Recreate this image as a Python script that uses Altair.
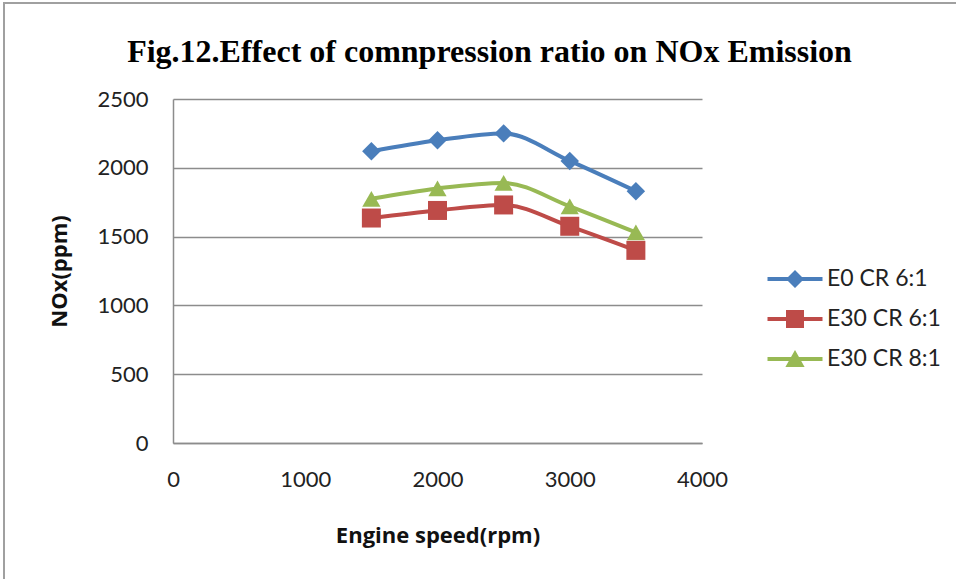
import altair as alt
import pandas as pd

speed = [1500, 2000, 2500, 3000, 3500]
series_names = ["E0 CR 6:1", "E30 CR 6:1", "E30 CR 8:1"]
e0_cr6 = [2120, 2200, 2250, 2050, 1830]
e30_cr6 = [1635, 1690, 1730, 1575, 1400]
e30_cr8 = [1775, 1850, 1890, 1720, 1530]
colors = ["#4A7EBB", "#BE4B48", "#98B954"]
shapes = ["diamond", "square", "triangle-up"]
marker_sizes = [340, 361, 330]

rows = []
for name, vals in zip(series_names, [e0_cr6, e30_cr6, e30_cr8]):
    for s, v in zip(speed, vals):
        rows.append({"speed": s, "nox": v, "series": name})
df = pd.DataFrame(rows)

# legend symbols: filled line bar plus marker
bar = "M-1.375,-0.1L1.375,-0.1L1.375,0.1L-1.375,0.1Z"
legend_paths = [
    bar + "M0,-0.45L0.45,0L0,0.45L-0.45,0Z",
    bar + "M-0.45,-0.45L0.45,-0.45L0.45,0.45L-0.45,0.45Z",
    bar + "M0,-0.45L0.48,0.4L-0.48,0.4Z",
]

x_enc = alt.X("speed:Q", scale=alt.Scale(domain=[0, 4000], nice=False),
              axis=alt.Axis(values=[0, 1000, 2000, 3000, 4000], title="Engine speed(rpm)",
                            format="d", grid=False, ticks=False, labelPadding=26,
                            labelFlush=False, titlePadding=35))
y_enc = alt.Y("nox:Q", scale=alt.Scale(domain=[0, 2500], nice=False),
              axis=alt.Axis(values=[0, 500, 1000, 1500, 2000, 2500], title="NOx(ppm)",
                            format="d", ticks=False, labelPadding=25, labelFlush=False,
                            titlePadding=25))

layers = []
for name, col in zip(series_names, colors):
    layers.append(
        alt.Chart(df).transform_filter(alt.datum.series == name)
        .mark_line(strokeWidth=4, interpolate="monotone", color=col)
        .encode(x=x_enc, y=y_enc)
    )
for name, col, shp, sz in zip(series_names, colors, shapes, marker_sizes):
    layers.append(
        alt.Chart(df).transform_filter(alt.datum.series == name)
        .mark_point(filled=True, opacity=1, size=sz, shape=shp, color=col)
        .encode(x=x_enc, y=y_enc)
    )

legend_props = dict(title=None, orient="none", legendX=602, legendY=160,
                    symbolSize=1600, symbolStrokeWidth=0,
                    labelFont="Lato", labelFontSize=23, labelColor="#222222",
                    rowPadding=8, labelOffset=12, symbolOpacity=1)

legend_layer = alt.Chart(df).transform_filter("datum.speed < 0").mark_point(
    filled=True, opacity=1).encode(
    x=x_enc, y=y_enc,
    color=alt.Color("series:N", scale=alt.Scale(domain=series_names, range=colors),
                    legend=alt.Legend(**legend_props)),
    shape=alt.Shape("series:N", scale=alt.Scale(domain=series_names, range=legend_paths),
                    legend=alt.Legend(**legend_props)),
)
layers.append(legend_layer)

frame = alt.Chart(pd.DataFrame({"a": [0]})).mark_rect(
    fill=None, stroke="#a0a0a0", strokeWidth=2, clip=False).encode(
    x=alt.value(-169), x2=alt.value(820), y=alt.value(-96), y2=alt.value(500))
layers.append(frame)

chart = alt.layer(*layers).properties(
    width=529, height=344,
    title=alt.TitleParams("Fig.12.Effect of comnpression ratio on NOx Emission",
                          font="Liberation Serif", fontSize=32, fontWeight="bold",
                          color="#000000", anchor="middle", dx=52, offset=0, dy=67),
    autosize=alt.AutoSizeParams(type="none"),
    padding={"left": 173, "top": 99, "right": 956 - 702, "bottom": 579 - 443},
).configure_axis(
    labelFont="Lato", labelFontSize=22, labelColor="#222222",
    titleFont="Open Sans", titleFontSize=22, titleFontWeight="bold", titleColor="#111111",
    domainColor="#8c8c8c", domainWidth=1.5, gridColor="#8c8c8c", gridWidth=1.5,
).configure_view(stroke=None)

chart.save("out.html", embed_options={"renderer": "svg", "actions": False})
